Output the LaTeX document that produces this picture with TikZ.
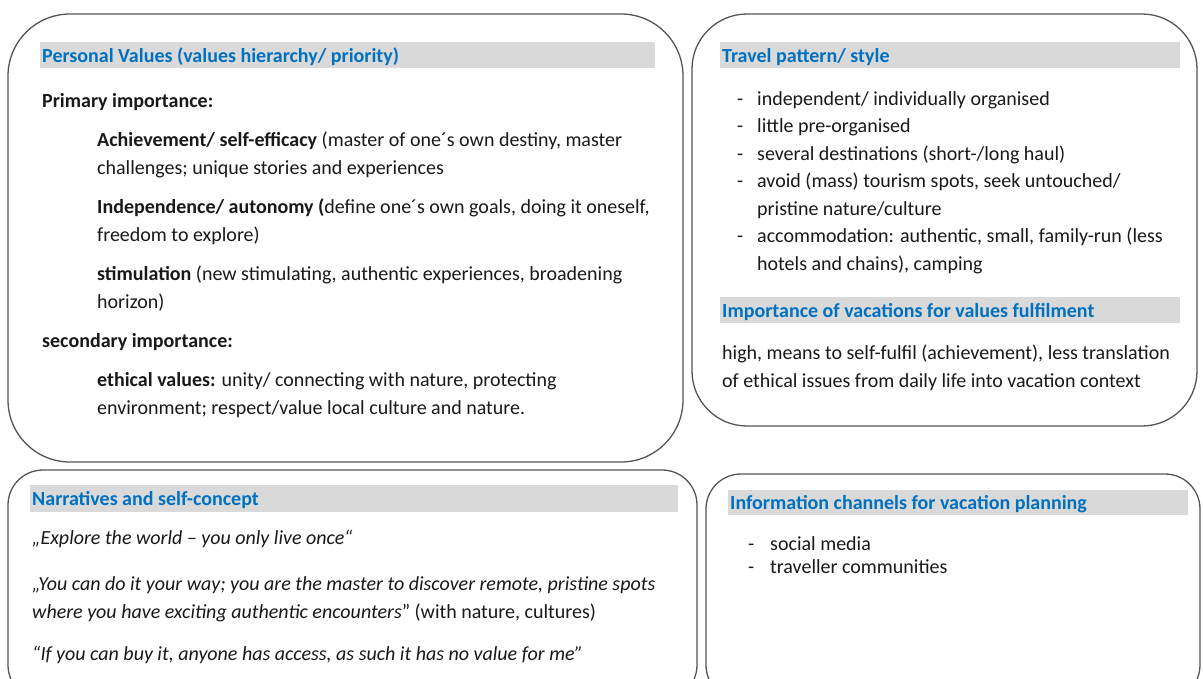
\documentclass[tikz,border=0pt]{standalone}
\usepackage{fontspec}
\setmainfont{Carlito}
\definecolor{ttl}{RGB}{0,112,192}
\definecolor{barc}{RGB}{217,217,217}
\definecolor{framec}{RGB}{85,85,85}
\definecolor{txtc}{RGB}{25,25,25}
\begin{document}
\begin{tikzpicture}[x=1pt,y=-1pt,
  box/.style={draw=framec,line width=1.3pt},
  txt/.style={anchor=base west,inner sep=0pt,font=\fontsize{20}{24}\selectfont,text=txtc},
  btxt/.style={txt,font=\fontsize{20}{24}\selectfont\bfseries},
  itxt/.style={txt,font=\fontsize{20}{24}\selectfont\itshape},
  ttltxt/.style={txt,text=ttl,font=\fontsize{20}{24}\selectfont\bfseries}]
\useasboundingbox (0,0) rectangle (1203,678);
\fill[white] (0,0) rectangle (1203,678);
\clip (0,0) rectangle (1203,678);
% ---------- Box 1: Personal values
\draw[box,rounded corners=62pt] (8,14) rectangle (683,462);
\fill[barc] (40,42) rectangle (655,68);
\node[ttltxt] (t1) at (42,62) {Personal Values (values hierarchy/ priority)};
\node[btxt] (p1) at (42,107) {Primary importance:};
\node[txt] (p2) at (97,146) {\textbf{Achievement/ self-efficacy} (master of one´s own destiny, master};
\node[txt] (p3) at (97,174) {challenges; unique stories and experiences};
\node[txt] (p4) at (97,213) {\textbf{Independence/ autonomy (}define one´s own goals, doing it oneself,};
\node[txt] (p5) at (97,241) {freedom to explore)};
\node[txt] (p6) at (97,280) {\textbf{stimulation} (new stimulating, authentic experiences, broadening};
\node[txt] (p7) at (97,308) {horizon)};
\node[btxt] (p8) at (42,347) {secondary importance:};
\node[txt] (p9) at (97,386) {\textbf{ethical values:} unity/ connecting with nature, protecting};
\node[txt] (p10) at (97,414) {environment; respect/value local culture and nature.};
% ---------- Box 2: Travel pattern
\draw[box,rounded corners=55pt] (692,14) rectangle (1197,426);
\fill[barc] (720,42) rectangle (1180,68);
\node[ttltxt] (t2) at (722,62) {Travel pattern/ style};
\node[txt] (d1) at (737,105) {-};
\node[txt] (l1) at (757,105) {independent/ individually organised};
\node[txt] (d2) at (737,132) {-};
\node[txt] (l2) at (757,132) {little pre-organised};
\node[txt] (d3) at (737,160) {-};
\node[txt] (l3) at (757,160) {several destinations (short-/long haul)};
\node[txt] (d4) at (737,187) {-};
\node[txt] (l4) at (757,187) {avoid (mass) tourism spots, seek untouched/};
\node[txt] (l5) at (757,215) {pristine nature/culture};
\node[txt] (d6) at (737,242) {-};
\node[txt] (l6) at (757,242) {accommodation: authentic, small, family-run (less};
\node[txt] (l7) at (757,270) {hotels and chains), camping};
\fill[barc] (720,297) rectangle (1180,323);
\node[ttltxt] (t3) at (722,317) {Importance of vacations for values fulfilment};
\node[txt] (q1) at (722,359) {high, means to self-fulfil (achievement), less translation};
\node[txt] (q2) at (722,387) {of ethical issues from daily life into vacation context};
% ---------- Box 3: Narratives
\draw[box,rounded corners=35pt] (8,470) rectangle (697,700);
\fill[barc] (30,485) rectangle (678,512);
\node[ttltxt] (t4) at (32,505) {Narratives and self-concept};
\node[itxt] (n1) at (32,544) {„Explore the world – you only live once“};
\node[itxt] (n2) at (32,590) {„You can do it your way; you are the master to discover remote, pristine spots};
\node[txt] (n3) at (32,618) {\textit{where you have exciting authentic encounters}” (with nature, cultures)};
\node[itxt] (n4) at (32,660) {“If you can buy it, anyone has access, as such it has no value for me”};
% ---------- Box 4: Information channels
\draw[box,rounded corners=35pt] (706,474) rectangle (1200,700);
\fill[barc] (728,490) rectangle (1188,515);
\node[ttltxt] (t5) at (730,509) {Information channels for vacation planning};
\node[txt] (e1) at (748,550) {-};
\node[txt] (s1) at (770,550) {social media};
\node[txt] (e2) at (748,573) {-};
\node[txt] (s2) at (770,573) {traveller communities};
\end{tikzpicture}
\end{document}
